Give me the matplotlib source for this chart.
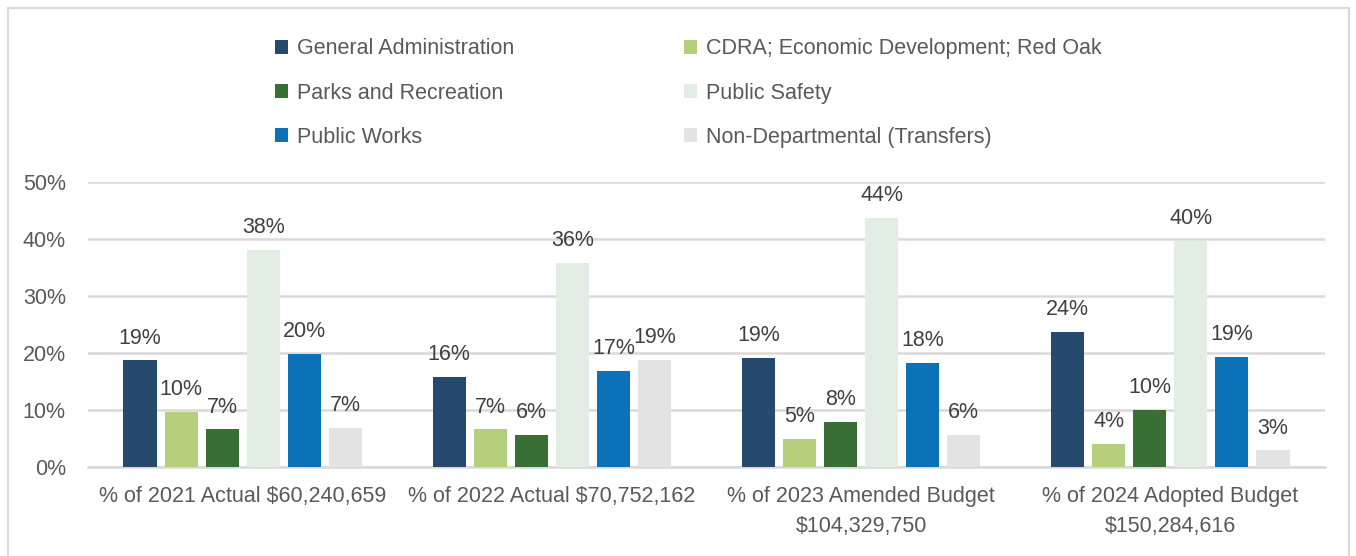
import matplotlib
matplotlib.use("Agg")
import matplotlib.pyplot as plt
import numpy as np
from matplotlib.patches import Rectangle, Patch

plt.rcParams['font.family'] = ['Liberation Sans', 'DejaVu Sans']

categories = [
    "% of 2021 Actual \\$60,240,659",
    "% of 2022 Actual \\$70,752,162",
    "% of 2023 Amended Budget\n\\$104,329,750",
    "% of 2024 Adopted Budget\n\\$150,284,616",
]
series_names = [
    "General Administration",
    "CDRA; Economic Development; Red Oak",
    "Parks and Recreation",
    "Public Safety",
    "Public Works",
    "Non-Departmental (Transfers)",
]
general_admin = [18.7, 15.8, 19.1, 23.7]
cdra = [9.7, 6.6, 4.9, 4.1]
parks = [6.6, 5.7, 7.9, 10.0]
public_safety = [38.1, 35.8, 43.7, 39.6]
public_works = [19.8, 16.9, 18.3, 19.3]
non_dept = [6.8, 18.8, 5.7, 2.9]
series_values = [general_admin, cdra, parks, public_safety, public_works, non_dept]
series_colors = ["#264a6e", "#b5cf7c", "#376f35", "#e2eee4", "#0b72b8", "#e3e3e3"]
yticks = [0, 10, 20, 30, 40, 50]

FS = 15.5
fig = plt.figure(figsize=(13.56, 5.56), dpi=100)
ax = fig.add_axes([88/1356, 1-467/556, (1325-88)/1356, (467-182)/556])

x = np.arange(len(categories))
step = 0.1327
width = 0.107
for i, (name, vals, col) in enumerate(zip(series_names, series_values, series_colors)):
    offs = (i - 2.5) * step
    ax.bar(x + offs, vals, width=width, color=col, label=name, zorder=3)
    for xi, v in zip(x + offs, vals):
        ax.annotate(f"{round(v):.0f}%", (xi, v), xytext=(0, 8.5), textcoords="offset points",
                    ha="center", va="bottom", fontsize=FS, color="#404040", zorder=4)

ax.set_xlim(-0.5, len(categories) - 0.5)
ax.set_ylim(0, 50)
ax.set_yticks(yticks)
ax.set_yticklabels([f"{t}%" for t in yticks])
ax.set_xticks(x)
ax.set_xticklabels(categories, linespacing=1.55)
ax.tick_params(axis="both", length=0, labelsize=FS, labelcolor="#595959")
ax.tick_params(axis="y", pad=16)
ax.tick_params(axis="x", pad=14)
ax.yaxis.grid(True, color="#d9d9d9", linewidth=1.8, zorder=0)
ax.set_axisbelow(True)
for s in ["top", "right", "left"]:
    ax.spines[s].set_visible(False)
ax.spines["bottom"].set_color("#d9d9d9")
ax.spines["bottom"].set_linewidth(1.8)

order = [0, 2, 4, 1, 3, 5]
leg_handles = [Patch(facecolor=series_colors[k], edgecolor="none") for k in order]
leg_labels = [series_names[k] for k in order]
fig.legend(leg_handles, leg_labels, ncol=2, loc="upper left",
           bbox_to_anchor=(256/1356, 1-19/556), frameon=False, fontsize=FS,
           labelcolor="#595959", handlelength=0.6, handleheight=0.6, handletextpad=0.4,
           columnspacing=7.9, labelspacing=1.08)

fig.patches.append(Rectangle((8/1356, -0.01), 1341/1356, 1-8/556 + 0.01, transform=fig.transFigure,
                             fill=False, edgecolor="#d9d9d9", linewidth=1.5))

fig.savefig("out.png", dpi=100)
